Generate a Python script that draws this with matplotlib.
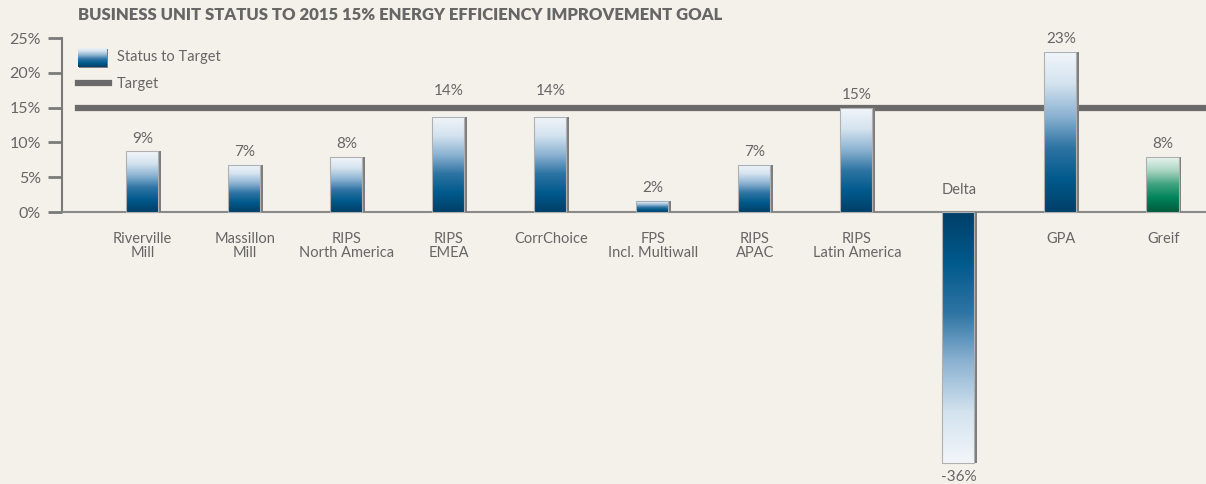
import numpy as np
import matplotlib
matplotlib.use("Agg")
import matplotlib.pyplot as plt
from matplotlib.colors import LinearSegmentedColormap
from matplotlib.patches import Rectangle
from matplotlib.lines import Line2D

categories = ["Riverville\nMill", "Massillon\nMill", "RIPS\nNorth America", "RIPS\nEMEA",
              "CorrChoice", "FPS\nIncl. Multiwall", "RIPS\nAPAC", "RIPS\nLatin America",
              "Delta", "GPA", "Greif"]
values = [9, 7, 8, 14, 14, 2, 7, 15, -36, 23, 8]
bar_values_exact = [8.7, 6.8, 7.9, 13.7, 13.7, 1.6, 6.8, 14.9, -36, 23.0, 7.9]
target = 15
yticks = [0, 5, 10, 15, 20, 25]
ytick_labels = ["0%", "5%", "10%", "15%", "20%", "25%"]
title = "BUSINESS UNIT STATUS TO 2015 15% ENERGY EFFICIENCY IMPROVEMENT GOAL"

BG = "#f4f1ea"
GRAY = "#6a6a6a"
TXT = "#666666"
FONT = "Lato"

blue_cmap = LinearSegmentedColormap.from_list(
    "b", ["#003f68", "#005a8c", "#2e74a3", "#8db3d2", "#d4e3ef", "#f2f6fa"])
green_cmap = LinearSegmentedColormap.from_list(
    "g", ["#005a3c", "#00845a", "#3ea27f", "#a9d4c2", "#e9f4ef"])

fig = plt.figure(figsize=(12.06, 4.84), dpi=100, facecolor=BG)
ax = fig.add_axes([62/1206, 0, 1 - 62/1206, 1], facecolor=BG)
ax.set_xlim(-0.79, 10.42)
ax.set_ylim(-39.08, 30.46)

w = 0.33
grad = np.linspace(0, 1, 256).reshape(-1, 1)
x = np.arange(len(categories))
for i, (cat, v, vb) in enumerate(zip(categories, values, bar_values_exact)):
    cmap = green_cmap if cat == "Greif" else blue_cmap
    g = grad if vb > 0 else grad[::-1]
    ax.add_patch(Rectangle((x[i] - w/2 + 0.014, 0), w, vb, facecolor="#7d7d7d",
                           edgecolor="none", zorder=6))
    ax.imshow(g, cmap=cmap, aspect="auto", origin="lower",
              extent=[x[i] - w/2, x[i] + w/2 - 0.014, 0 if vb > 0 else vb, vb if vb > 0 else 0],
              zorder=7, interpolation="bicubic")
    ax.add_patch(Rectangle((x[i] - w/2, 0), w - 0.014, vb, facecolor="none",
                           edgecolor="#b0b0b0", linewidth=0.8, zorder=8))
    if v > 0:
        ly = vb + 1.85
        if abs(ly - target) < 1.5:
            ly = target + 2.4
        ax.text(x[i], ly, f"{v}%", ha="center", va="center", fontsize=11,
                color=TXT, family=FONT)
        ax.text(x[i], -2.9, cat, ha="center", va="top", fontsize=10.5, color=TXT,
                family=FONT, linespacing=1.0)
    else:
        ax.text(x[i], vb - 1.0, f"{v}%", ha="center", va="top", fontsize=11,
                color=TXT, family=FONT)
        ax.text(x[i], 2.1, cat, ha="center", va="bottom", fontsize=10.5, color=TXT,
                family=FONT)

ax.axhline(0, color="#8a8a8a", linewidth=1.5, zorder=5)
ax.axhline(target, xmin=16/1144, xmax=1, color=GRAY, linewidth=4.5, zorder=4)

for s in ["top", "right", "bottom"]:
    ax.spines[s].set_visible(False)
ax.spines["left"].set_bounds(0, 25)
ax.spines["left"].set_color("#7a7a7a")
ax.spines["left"].set_linewidth(1.5)
ax.set_xticks([])
ax.set_yticks(yticks)
ax.set_yticklabels(ytick_labels, family=FONT, fontsize=11.5, color=TXT)
ax.tick_params(axis="y", length=10, width=2, color="#7a7a7a", direction="out", pad=5)

# legend
lax = fig.add_axes([78/1206, 1 - 68/484, 30/1206, 20/484])
lax.set_xlim(0, 1.05)
lax.set_ylim(-0.05, 1)
lax.add_patch(Rectangle((0.04, -0.05), 1.01, 1.0, facecolor="#7d7d7d", zorder=1))
lax.imshow(grad, cmap=blue_cmap, aspect="auto", origin="lower", interpolation="bicubic",
           extent=[0, 1, 0, 1], zorder=2)
lax.axis("off")
fig.text(117/1206, 1 - 57/484, "Status to Target", fontsize=10.5, color=TXT,
         family=FONT, va="center")
fig.add_artist(Line2D([78/1206, 109/1206], [1 - 83/484, 1 - 83/484], color=GRAY,
                      linewidth=4.5))
fig.text(117/1206, 1 - 84/484, "Target", fontsize=10.5, color=TXT, family=FONT,
         va="center")

fig.text(78/1206, 1 - 15/484, title, fontsize=12, fontweight="heavy", color=TXT,
         family=FONT, va="center")

fig.savefig("out.png", dpi=100, facecolor=BG)
